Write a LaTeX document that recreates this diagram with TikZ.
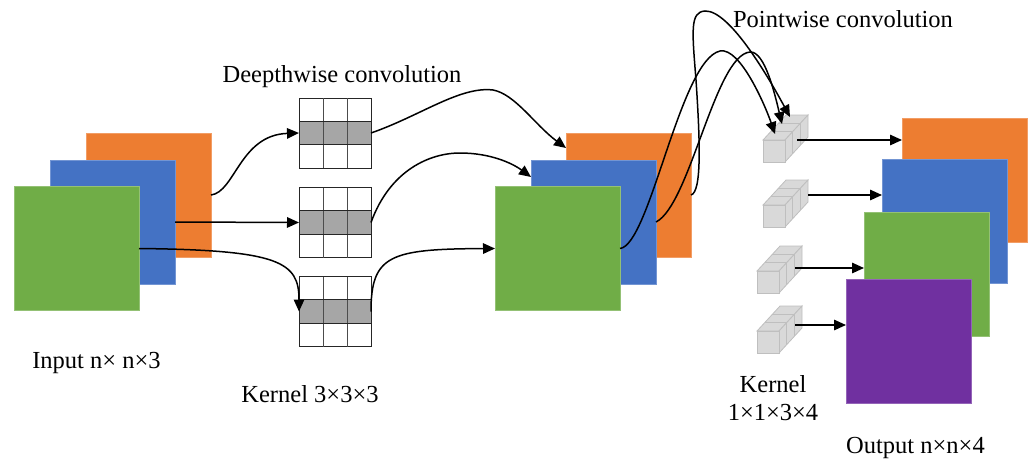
\documentclass[tikz,border=0pt]{standalone}
\usepackage{fontspec}
\setmainfont{Liberation Serif}
\usetikzlibrary{arrows.meta,calc}
\definecolor{cO}{HTML}{ED7D31}
\definecolor{cB}{HTML}{4472C4}
\definecolor{cG}{HTML}{70AD47}
\definecolor{cP}{HTML}{7030A0}
\definecolor{kgray}{HTML}{A6A6A6}
\definecolor{cubefill}{HTML}{D9D9D9}
\definecolor{cubeedge}{HTML}{BFBFBF}
\begin{document}
\begin{tikzpicture}[x=1pt,y=-1pt,
  fmap/.style={rectangle, inner sep=0pt, outer sep=0pt, minimum width=125pt, minimum height=124pt, fill=#1, draw=#1!75!white, line width=0.8pt},
  kern/.style={rectangle, inner sep=0pt, outer sep=0pt, minimum width=72pt, minimum height=70pt},
  lbl/.style={font=\fontsize{24.5}{28}\selectfont, inner sep=0pt, anchor=base},
  conn/.style={line width=1.5pt, -{Triangle[length=12pt,width=10.5pt]}},
  kcube/.pic={
    \filldraw[fill=cubefill, draw=cubeedge, line width=0.8pt] (0,0) -- (22,0) -- (45,-25) -- (23,-25) -- cycle;
    \filldraw[fill=cubefill, draw=cubeedge, line width=0.8pt] (22,0) -- (45,-25) -- (45,-3) -- (22,22) -- cycle;
    \filldraw[fill=cubefill, draw=cubeedge, line width=0.8pt] (0,0) rectangle (22,22);
    \draw[cubeedge, line width=0.8pt] (7.67,-8.33) -- (29.67,-8.33) -- (29.67,13.67);
    \draw[cubeedge, line width=0.8pt] (15.33,-16.67) -- (37.33,-16.67) -- (37.33,5.33);
  }]
\useasboundingbox (0,0) rectangle (1032,461);

% input feature maps
\node[fmap=cO] (iO) at (148.5,195) {};
\node[fmap=cB] (iB) at (112.5,222) {};
\node[fmap=cG] (iG) at (76.5,248.5) {};

% kernels
\foreach \n/\y in {k1/133, k2/222.5, k3/311.5}{
  \node[kern] (\n) at (335,\y) {};
  \fill[kgray] ($(\n.west)+(0,-11.7)$) rectangle ($(\n.east)+(0,11.7)$);
  \draw[black!85, line width=0.9pt] (\n.north west) rectangle (\n.south east);
  \draw[black!70, line width=0.9pt] ($(\n.north west)+(24,0)$) -- ($(\n.south west)+(24,0)$);
  \draw[black!70, line width=0.9pt] ($(\n.north west)+(48,0)$) -- ($(\n.south west)+(48,0)$);
  \draw[black!85, line width=0.9pt] ($(\n.west)+(0,-11.7)$) -- ($(\n.east)+(0,-11.7)$);
  \draw[black!85, line width=0.9pt] ($(\n.west)+(0,11.7)$) -- ($(\n.east)+(0,11.7)$);
}

% middle feature maps
\node[fmap=cO] (mO) at (628.5,195) {};
\node[fmap=cB] (mB) at (593.5,222) {};
\node[fmap=cG] (mG) at (557.5,248.5) {};

% 1x1x3 kernels
\pic at (763,140) {kcube};
\pic at (763,205) {kcube};
\pic at (757,271) {kcube};
\pic at (757,331) {kcube};
\coordinate (c1s) at (797,140);
\coordinate (c2s) at (808,195);
\coordinate (c3s) at (795,268);
\coordinate (c4s) at (795,325);
\coordinate (p1) at (790,117);
\coordinate (p2) at (782,124);
\coordinate (p3) at (775,134);

% output feature maps
\node[fmap=cO] (oO) at (964.5,180.5) {};
\node[fmap=cB] (oB) at (944.5,221) {};
\node[fmap=cG] (oG) at (926.5,274.5) {};
\node[fmap=cP] (oP) at (908.5,341) {};

% depthwise connectors
\draw[conn] (iO.east) .. controls (235,192) and (240,135) .. (k1.west);
\draw[conn] (iB.east) -- (k2.west);
\draw[conn] (iG.east) .. controls (280,250) and (299,262) .. (k3.west);

\draw[conn] (k1.east) .. controls (420,116) and (460,86) .. (493,90) .. controls (515,94) and (535,125) .. ($(mO.north west)+(0,15)$);
\draw[conn] (k2.east) .. controls (390,170) and (430,153) .. (460,153) .. controls (490,153) and (512,163) .. ($(mB.north west)+(0,17)$);
\draw[conn] (k3.east) .. controls (371,255) and (390,249) .. (mG.west);

% pointwise connectors
\draw[conn] (mO.east) .. controls (702,192) and (700,140) .. (696,80) .. controls (692,30) and (690,12) .. (705,11) .. controls (730,10) and (770,80) .. (p1);
\draw[conn] (mB.east) .. controls (690,205) and (715,55) .. (750,52) .. controls (765,51) and (775,95) .. (p2);
\draw[conn] (mG.east) .. controls (650,245) and (680,60) .. (720,51) .. controls (740,47) and (765,105) .. (p3);

\draw[conn] (c1s) -- (oO.west |- c1s);
\draw[conn] (c2s) -- (oB.west |- c2s);
\draw[conn] (c3s) -- (oG.west |- c3s);
\draw[conn] (c4s) -- (oP.west |- c4s);

% labels
\node[lbl] (tdw) at (342,82) {Deepthwise convolution};
\node[lbl] (tpw) at (843,27) {Pointwise convolution};
\node[lbl] (tin) at (96.5,368) {Input n× n×3};
\node[lbl] (tk3) at (310,402) {Kernel 3×3×3};
\node[lbl] (tk1a) at (773,392) {Kernel};
\node[lbl] (tk1b) at (773,420) {1×1×3×4};
\node[lbl] (tout) at (915.5,453) {Output n×n×4};
\end{tikzpicture}
\end{document}
